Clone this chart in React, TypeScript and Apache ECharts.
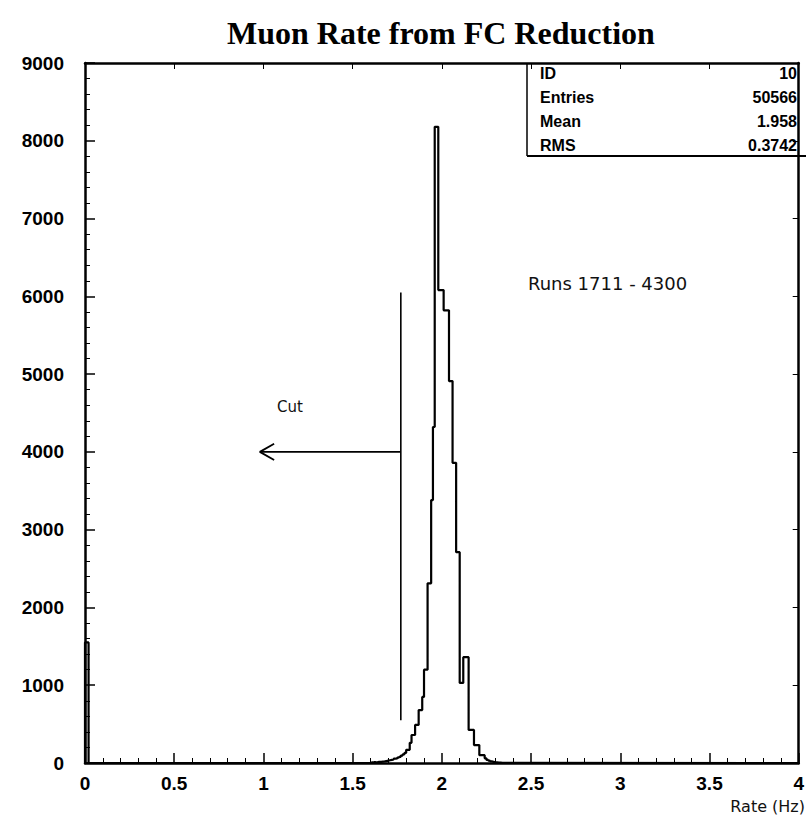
import React, { useEffect, useRef } from "react";
import * as echarts from "echarts";

// ---- data ----
const TITLE = "Muon Rate from FC Reduction";
const X_NAME = "Rate (Hz)";
const RUNS_TEXT = "Runs 1711 - 4300";
const CUT_TEXT = "Cut";
const BIN_WIDTH = 0.01;

// spike at zero rate
const zeroBinStart = 0.0;
const zeroBinCounts = [1550, 1550];

// main peak region, bins of 0.01 starting at 1.60
const peakBinStart = 1.6;
const peakBinCounts = [
  8, 10, 10, 12, 15, 15, 18, 20, 25, 30, // 1.60-1.69
  35, 40, 45, 55, 60, 70, 80, 95, 110, 130, // 1.70-1.79
  170, 170, 260, 360, 360, 490, 490, 680, 680, 850, // 1.80-1.89
  1200, 1200, 2310, 2310, 3380, 4320, 8180, 8180, 6080, 6080, // 1.90-1.99
  6080, 5820, 5820, 5820, 4910, 4910, 3860, 3860, 2710, 2710, // 2.00-2.09
  1030, 1030, 1360, 1360, 1360, 425, 425, 425, 230, 230, // 2.10-2.19
  230, 100, 100, 100, 60, 40, 30, 20, 15, 10, // 2.20-2.29
  8, 5, 5, 3, 3, 2, // 2.30-2.35
];

const statLabels = ["ID", "Entries", "Mean", "RMS"];
const statValues = ["10", "50566", "1.958", "0.3742"];

// cut annotation (data coordinates)
const cutX = 1.77;
const cutTop = 6050;
const cutBottom = 550;
const arrowY = 4000;
const arrowTipX = 0.98;

const X_MIN = 0;
const X_MAX = 4;
const X_INTERVAL = 0.5;
const Y_MIN = 0;
const Y_MAX = 9000;
const Y_INTERVAL = 1000;

function binOutline(start: number, counts: number[]): number[][] {
  const pts: number[][] = [];
  pts.push([start, 0]);
  counts.forEach((c, i) => {
    const lo = +(start + i * BIN_WIDTH).toFixed(4);
    const hi = +(start + (i + 1) * BIN_WIDTH).toFixed(4);
    pts.push([lo, c], [hi, c]);
  });
  pts.push([+(start + counts.length * BIN_WIDTH).toFixed(4), 0]);
  return pts;
}

export default function App() {
  const ref = useRef<HTMLDivElement>(null);

  useEffect(() => {
    if (!ref.current) return;
    const chart = echarts.init(ref.current, undefined, { renderer: "svg" });

    const histPts = [
      [X_MIN, 0],
      ...binOutline(zeroBinStart, zeroBinCounts),
      ...binOutline(peakBinStart, peakBinCounts),
      [X_MAX, 0],
    ];

    const black = "#000";
    const sans = "Liberation Sans";
    const thin = "DejaVu Sans";

    const graphic: any[] = [
      {
        type: "line",
        shape: { x1: 527, y1: 63, x2: 527, y2: 156 },
        style: { stroke: black, lineWidth: 1.5 },
      },
      {
        type: "line",
        shape: { x1: 527, y1: 156, x2: 806, y2: 156 },
        style: { stroke: black, lineWidth: 2 },
      },
    ];
    const rowY = [73, 97, 121, 145];
    statLabels.forEach((l, i) => {
      graphic.push({
        type: "text",
        x: 540,
        y: rowY[i],
        style: {
          text: l,
          font: `bold 16px "${sans}"`,
          fill: black,
          align: "left",
          verticalAlign: "middle",
        },
      });
      graphic.push({
        type: "text",
        x: 797,
        y: rowY[i],
        style: {
          text: statValues[i],
          font: `bold 16px "${sans}"`,
          fill: black,
          align: "right",
          verticalAlign: "middle",
        },
      });
    });
    const thinFont = (size: number) => `normal ${size}px "${thin}"`;
    graphic.push({
      type: "text",
      x: 528,
      y: 283,
      style: {
        text: RUNS_TEXT,
        font: thinFont(18),
        fill: "#111",
        align: "left",
        verticalAlign: "middle",
      },
    });
    graphic.push({
      type: "text",
      x: 277,
      y: 407,
      style: {
        text: CUT_TEXT,
        font: thinFont(15),
        fill: "#111",
        align: "left",
        verticalAlign: "middle",
      },
    });
    graphic.push({
      type: "text",
      x: 805,
      y: 806,
      style: {
        text: X_NAME,
        font: thinFont(16),
        fill: "#111",
        align: "right",
        verticalAlign: "middle",
      },
    });

    const lineBase = {
      type: "line",
      xAxisIndex: 0,
      yAxisIndex: 0,
      showSymbol: false,
      symbol: "none",
      silent: true,
      animation: false,
    };

    chart.setOption({
      animation: false,
      backgroundColor: "#fff",
      title: {
        text: TITLE,
        left: 222,
        top: 12,
        textStyle: {
          fontFamily: "Liberation Serif",
          fontWeight: "bold",
          fontSize: 32,
          color: black,
        },
      },
      grid: { left: 85, right: 1, top: 63, bottom: 55, containLabel: false },
      xAxis: [
        {
          type: "value",
          position: "bottom",
          min: X_MIN,
          max: X_MAX,
          interval: X_INTERVAL,
          axisLine: { show: true, onZero: false, lineStyle: { color: black, width: 2.5 } },
          axisTick: { show: true, inside: true, length: 10, lineStyle: { color: black, width: 1.5 } },
          minorTick: { show: true, splitNumber: 5, length: 5, lineStyle: { color: black, width: 1 } },
          axisLabel: {
            show: true,
            margin: 11,
            color: black,
            fontFamily: sans,
            fontWeight: "bold",
            fontSize: 19,
            showMaxLabel: true,
            showMinLabel: true,
            formatter: (v: number) => String(v),
          },
          splitLine: { show: false },
        },
        {
          type: "value",
          position: "top",
          min: X_MIN,
          max: X_MAX,
          interval: X_INTERVAL,
          axisLine: { show: true, onZero: false, lineStyle: { color: black, width: 2.5 } },
          axisTick: { show: true, inside: true, length: 6, lineStyle: { color: black, width: 1 } },
          axisLabel: { show: false },
          splitLine: { show: false },
        },
      ],
      yAxis: [
        {
          type: "value",
          position: "left",
          min: Y_MIN,
          max: Y_MAX,
          interval: Y_INTERVAL,
          axisLine: { show: true, onZero: false, lineStyle: { color: black, width: 2.5 } },
          axisTick: { show: true, inside: true, length: 10, lineStyle: { color: black, width: 1.5 } },
          minorTick: { show: true, splitNumber: 5, length: 5, lineStyle: { color: black, width: 1 } },
          axisLabel: {
            show: true,
            margin: 21,
            color: black,
            fontFamily: sans,
            fontWeight: "bold",
            fontSize: 19,
            formatter: (v: number) => String(v),
          },
          splitLine: { show: false },
        },
        {
          type: "value",
          position: "right",
          min: Y_MIN,
          max: Y_MAX,
          interval: Y_INTERVAL,
          axisLine: { show: true, onZero: false, lineStyle: { color: black, width: 2.5 } },
          axisTick: { show: true, inside: true, length: 6, lineStyle: { color: black, width: 1 } },
          axisLabel: { show: false },
          splitLine: { show: false },
        },
      ],
      series: [
        {
          ...lineBase,
          name: "hist",
          data: histPts,
          lineStyle: { color: black, width: 2.2 },
        },
        {
          ...lineBase,
          name: "cut",
          data: [
            [cutX, cutTop],
            [cutX, cutBottom],
          ],
          lineStyle: { color: black, width: 1.6 },
        },
        {
          ...lineBase,
          name: "arrow",
          data: [
            [cutX, arrowY],
            [arrowTipX, arrowY],
          ],
          lineStyle: { color: black, width: 1.6 },
        },
        {
          ...lineBase,
          name: "arrowHead",
          data: [
            [arrowTipX + 0.08, arrowY + 105],
            [arrowTipX, arrowY],
            [arrowTipX + 0.08, arrowY - 105],
          ],
          lineStyle: { color: black, width: 1.8 },
        },
      ],
      graphic,
    });

    return () => chart.dispose();
  }, []);

  return (
    <div
      ref={ref}
      style={{ position: "fixed", left: 0, top: 0, width: 807, height: 818 }}
    />
  );
}
